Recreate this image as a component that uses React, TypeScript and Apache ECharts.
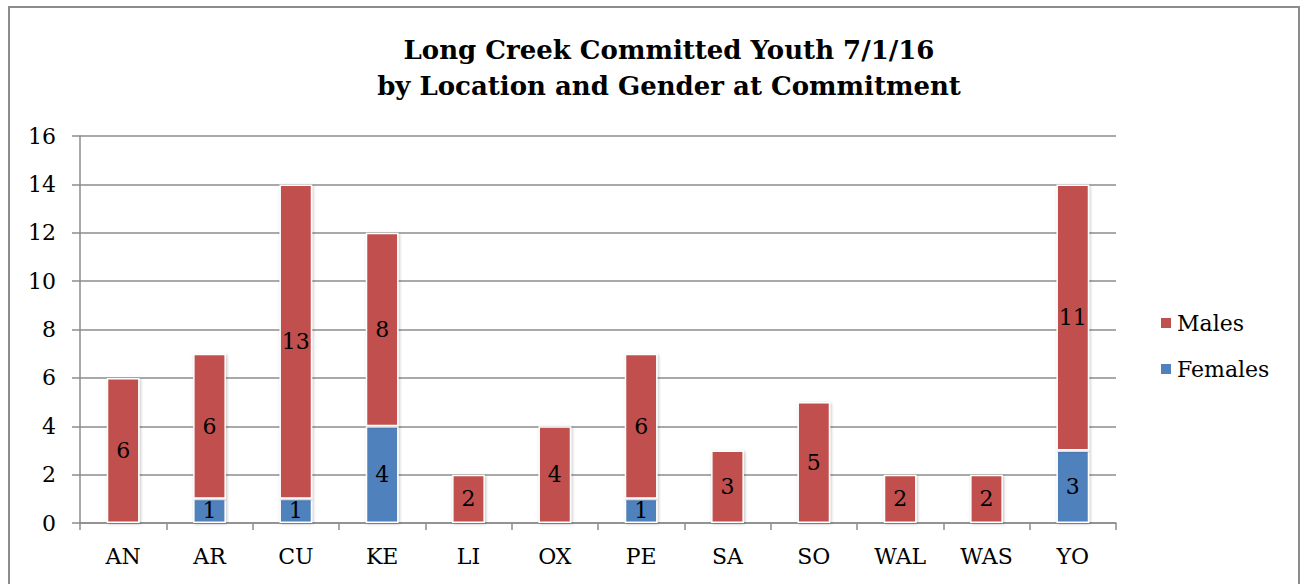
import React, { useEffect, useRef } from "react";
import * as echarts from "echarts";

const categories = ["AN", "AR", "CU", "KE", "LI", "OX", "PE", "SA", "SO", "WAL", "WAS", "YO"];
const males = [6, 6, 13, 8, 2, 4, 6, 3, 5, 2, 2, 11];
const females = [0, 1, 1, 4, 0, 0, 1, 0, 0, 0, 0, 3];
const yTicks = [0, 2, 4, 6, 8, 10, 12, 14, 16];

const FONT = "'DejaVu Serif', 'Liberation Serif', serif";

export default function App() {
  const ref = useRef<HTMLDivElement>(null);
  useEffect(() => {
    if (!ref.current) return;
    const chart = echarts.init(ref.current, null, { renderer: "svg" });
    const barStyle = (color: string) => ({
      color,
      borderColor: "#ffffff",
      borderWidth: 1.5,
      shadowColor: "rgba(0,0,0,0.25)",
      shadowBlur: 3,
      shadowOffsetX: 1,
      shadowOffsetY: 1,
    });
    const label = {
      show: true,
      position: "inside",
      color: "#000",
      fontFamily: FONT,
      fontSize: 22,
      formatter: (p: any) => (p.value ? String(p.value) : ""),
    };
    chart.setOption({
      animation: false,
      backgroundColor: "#fff",
      textStyle: { fontFamily: FONT },
      title: {
        text: "Long Creek Committed Youth 7/1/16\nby Location and Gender at Commitment",
        left: 664,
        textAlign: "center",
        top: 27,
        textStyle: {
          fontFamily: FONT,
          fontWeight: "bold",
          fontSize: 26,
          lineHeight: 36,
          color: "#000",
        },
      },
      graphic: [
        {
          type: "rect",
          shape: { x: 9, y: 7, width: 1290, height: 600 },
          style: { fill: "none", stroke: "#8c8c8c", lineWidth: 2 },
          silent: true,
        },
      ],
      legend: {
        orient: "vertical",
        left: 1154,
        top: 307,
        itemWidth: 12,
        itemHeight: 12,
        itemGap: 24,
        icon: "rect",
        data: ["Males", "Females"],
        textStyle: { fontFamily: FONT, fontSize: 22, color: "#000", padding: [0, 0, 0, 0] },
      },
      grid: { left: 80, right: 185, top: 136, bottom: 61 },
      xAxis: {
        type: "category",
        data: categories,
        axisLine: { lineStyle: { color: "#8c8c8c", width: 1.5 } },
        axisTick: { show: true, length: 7, lineStyle: { color: "#8c8c8c", width: 1.5 } },
        axisLabel: { color: "#000", fontFamily: FONT, fontSize: 22, margin: 22 },
      },
      yAxis: {
        type: "value",
        min: 0,
        max: 16,
        interval: 2,
        axisLine: { show: true, lineStyle: { color: "#8c8c8c", width: 1.5 } },
        axisTick: { show: true, length: 8, lineStyle: { color: "#8c8c8c", width: 1.5 } },
        axisLabel: {
          color: "#000",
          fontFamily: FONT,
          fontSize: 22,
          margin: 24,
          formatter: (v: number) => (yTicks.includes(v) ? String(v) : ""),
        },
        splitLine: { lineStyle: { color: "#8c8c8c", width: 1.5 } },
      },
      series: [
        {
          name: "Females",
          type: "bar",
          stack: "total",
          barWidth: "38%",
          data: females,
          itemStyle: barStyle("#4F81BD"),
          label,
        },
        {
          name: "Males",
          type: "bar",
          stack: "total",
          barWidth: "38%",
          data: males,
          itemStyle: barStyle("#C0504D"),
          label,
        },
      ],
    });
    return () => chart.dispose();
  }, []);
  return (
    <div
      ref={ref}
      style={{ position: "fixed", left: 0, top: 0, width: 1301, height: 584 }}
    />
  );
}
